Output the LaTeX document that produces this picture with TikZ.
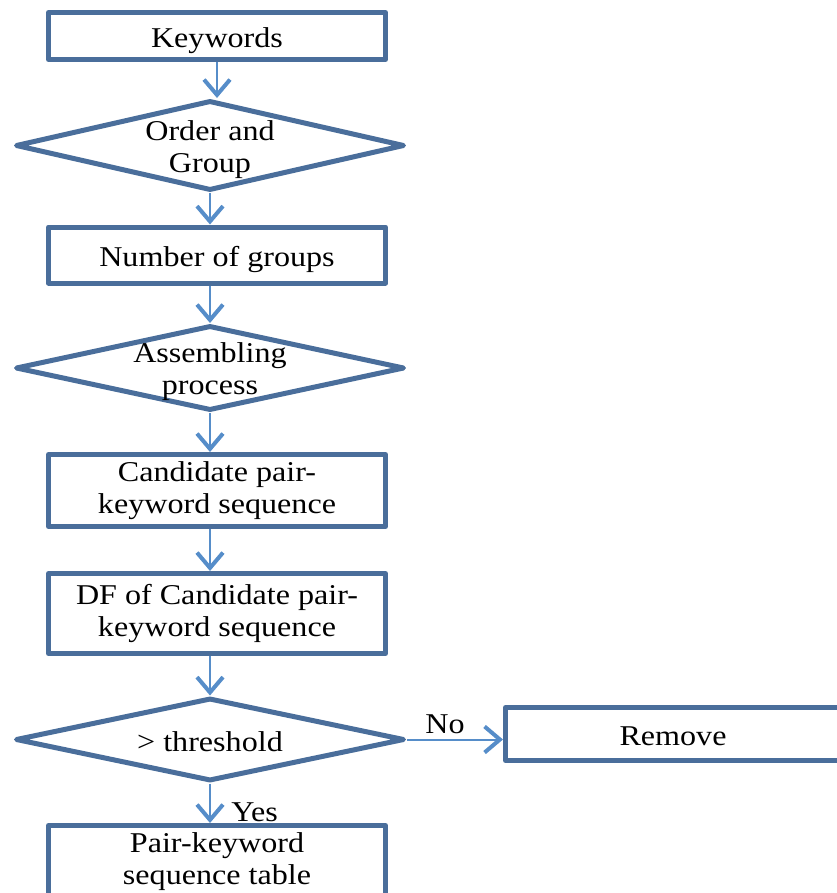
\documentclass[tikz,border=0pt]{standalone}
\usepackage{fontspec}
\setmainfont[FakeStretch=1.12]{Liberation Serif}
\usetikzlibrary{arrows.meta,shapes.geometric}
\definecolor{boxline}{RGB}{74,110,155}
\definecolor{flowline}{RGB}{86,141,201}

\begin{document}
\begin{tikzpicture}[x=0.75pt,y=-0.75pt,
  font=\fontsize{21.5}{24}\selectfont,
  stepbox/.style={draw=boxline,line width=3.75pt,rectangle,minimum width=252.75pt,
    inner sep=0pt,align=center,line join=round},
  decision/.style={draw=boxline,line width=3.75pt,diamond,minimum width=291.75pt,
    inner sep=0pt,line join=round},
  txt/.style={align=center,inner sep=0pt},
  oneline/.style={text height=16.5pt,text depth=0pt},
  flow/.style={draw=flowline,line width=1.5pt,
    -{Straight Barb[length=11.5pt,width=19.5pt,line width=3pt]}},
  tag/.style={inner sep=0pt}
]
\useasboundingbox (0,0) rectangle (837,893);
\clip (0,0) rectangle (837,893);

% process boxes
\node[stepbox,oneline,minimum height=35.25pt] (kw) at (217,36) {Keywords};
\node[stepbox,oneline,minimum height=42pt] (ng) at (217,255) {Number of groups};
\node[stepbox,minimum height=54pt] (cand) at (217,490.5) {Candidate pair-\\keyword sequence};
\node[stepbox,minimum height=60pt] (df) at (217,613.5) {DF of Candidate pair-\\keyword sequence};
\node[stepbox,minimum height=54.75pt,anchor=north] (tbl) at (217,823) {Pair-keyword\\sequence table};
\node[stepbox,oneline,minimum width=251.25pt,minimum height=39.75pt] (rm) at (673,734) {Remove};

% decisions
\node[decision,minimum height=67.5pt] (og) at (210,145.5) {};
\node[txt] (ogt) at (210,150) {Order and\\Group};
\node[decision,minimum height=63.75pt] (asm) at (210,368) {};
\node[txt] (asmt) at (210,372) {Assembling\\process};
\node[decision,minimum height=62.25pt] (th) at (210,739.5) {};
\node[txt,oneline] (tht) at (210,740) {> threshold};

% connectors
\draw[flow] (kw.south) -- (kw.south |- og.north);
\draw[flow] (og.south) -- (og.south |- ng.north);
\draw[flow] (ng.south -| asm.north) -- (asm.north);
\draw[flow] (asm.south) -- (asm.south |- cand.north);
\draw[flow] (cand.south -| asm.center) -- (df.north -| asm.center);
\draw[flow] (df.south -| th.north) -- (th.north);
\draw[flow] (th.south) -- (th.south |- tbl.north);
\draw[flow] (th.east) -- (th.east -| rm.west);

% branch labels
\node[tag,anchor=base] (no) at (445,733) {No};
\node[tag,anchor=base west] (yes) at (231,821) {Yes};
\end{tikzpicture}
\end{document}
